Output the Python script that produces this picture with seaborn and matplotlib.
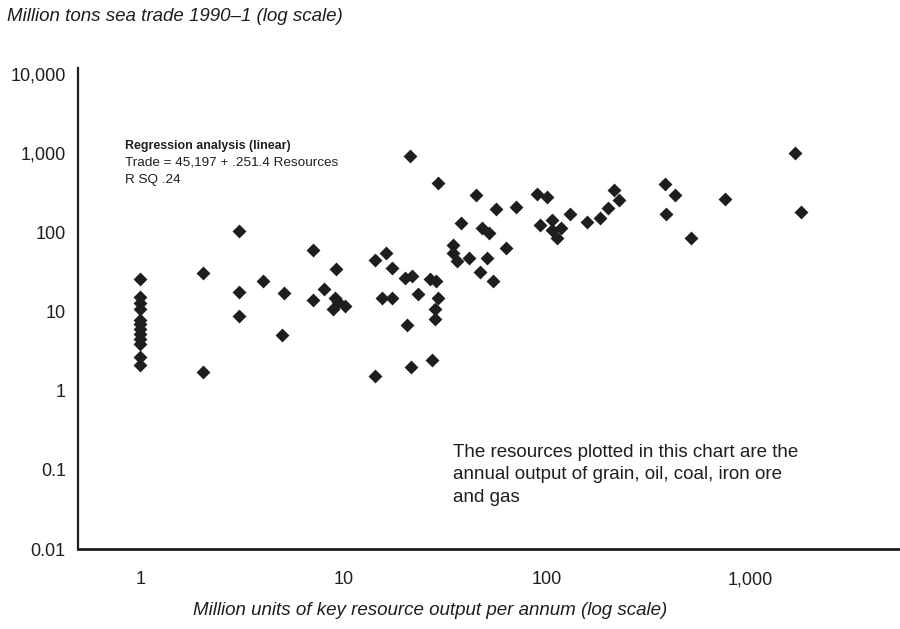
import pandas as pd
import matplotlib
matplotlib.use("Agg")
import matplotlib.pyplot as plt
import seaborn as sns

# Resource output (x) vs sea trade (y)
resources = [1, 1, 1, 1, 1, 1, 1, 1, 1, 1, 1, 1,
             2.04, 2.04, 3.05, 3.05, 3.05, 4.03, 5.1, 5.0,
             7.1, 7.06, 8.0, 9.15, 9.1, 9.4, 8.9, 10.2,
             14.2, 16.2, 17.3, 20, 21.6, 26.5, 28.5, 15.4, 17.3, 23.2, 29.2,
             28.2, 28.2, 20.4, 14.2, 21.4, 27.3, 21.2, 29,
             34.4, 34.4, 36.1, 41.5, 50.6, 47, 54.6, 62.7, 38, 47.9, 52,
             45, 56.4, 70.8, 89.4, 100, 93, 106, 106, 117, 112, 130,
             158, 182, 200, 214, 226, 382, 426, 388, 755, 514, 1671, 1787]
trade = [25.8, 15.4, 12.9, 10.9, 7.9, 6.9, 6.0, 5.2, 4.5, 3.9, 2.7, 2.1,
         30.7, 1.7, 105, 17.8, 8.8, 24.6, 17, 5.1,
         60, 13.9, 19, 34.7, 15, 13, 10.8, 11.8,
         45, 55, 35.6, 26.7, 28, 25.4, 24.2, 15, 15, 16.5, 15,
         10.7, 8.0, 6.7, 1.53, 2.0, 2.46, 926, 422,
         69, 55, 43, 48, 48, 32, 24.2, 64, 130, 112, 97,
         292, 195, 209, 307, 280, 123, 142, 107, 112, 84, 168,
         136, 150, 200, 347, 253, 408, 292, 168, 266, 84, 1000, 181]

x_ticks = [1, 10, 100, 1000]
x_labels = ["1", "10", "100", "1,000"]
y_ticks = [0.01, 0.1, 1, 10, 100, 1000, 10000]
y_labels = ["0.01", "0.1", "1", "10", "100", "1,000", "10,000"]

df = pd.DataFrame({"resources": resources, "trade": trade})

sns.set_style("white")
plt.rcParams['font.family'] = ['Liberation Sans', 'DejaVu Sans']
ink = "#1e1e1e"

fig = plt.figure(figsize=(9, 6.29), dpi=100)
ax = fig.add_axes([0.087, 0.127, 0.913, 0.765])

sns.scatterplot(data=df, x="resources", y="trade", marker="D", s=50,
                color=ink, linewidth=0, ax=ax)

ax.set_xscale("log")
ax.set_yscale("log")
ax.set_xlim(0.495, 5470)
ax.set_ylim(0.01, 11900)
ax.set_xticks(x_ticks, labels=x_labels)
ax.set_yticks(y_ticks, labels=y_labels)
ax.minorticks_off()
ax.tick_params(axis="x", length=0, pad=16, labelsize=13, labelcolor=ink)
ax.tick_params(axis="y", length=0, pad=9, labelsize=13, labelcolor=ink)
ax.set_xlabel("")
ax.set_ylabel("")

for side in ["top", "right"]:
    ax.spines[side].set_visible(False)
ax.spines["left"].set_linewidth(1.6)
ax.spines["bottom"].set_linewidth(2.0)
ax.spines["left"].set_color(ink)
ax.spines["bottom"].set_color(ink)

fig.text(0.008, 0.974, "Million tons sea trade 1990\u20131 (log scale)",
         fontsize=13.5, style="italic", color=ink, va="center", ha="left")
fig.text(0.478, 0.03, "Million units of key resource output per annum (log scale)",
         fontsize=13.5, style="italic", color=ink, va="center", ha="center")

fig.text(0.139, 0.768, "Regression analysis (linear)", fontsize=8.9,
         fontweight="bold", color=ink, va="center", ha="left")
fig.text(0.139, 0.741, "Trade = 45,197 + .251.4 Resources", fontsize=9.7,
         color=ink, va="center", ha="left")
fig.text(0.139, 0.714, "R SQ .24", fontsize=9.7, color=ink, va="center", ha="left")

fig.text(0.503, 0.245,
         "The resources plotted in this chart are the\n"
         "annual output of grain, oil, coal, iron ore\n"
         "and gas",
         fontsize=13.5, color=ink, va="center", ha="left", linespacing=1.42)

plt.savefig("out.png", dpi=100)
